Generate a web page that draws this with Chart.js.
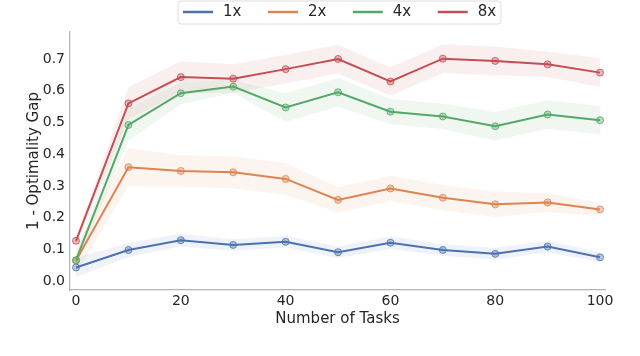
<!DOCTYPE html>
<html><head><meta charset="utf-8">
<script src="https://cdn.jsdelivr.net/npm/chart.js@4"></script>
<style>html,body{margin:0;padding:0;background:#fff}#w{width:640px;height:356px}</style>
</head><body><div id="w"><canvas id="c" width="640" height="356"></canvas></div>
<script>
const tasks = [0, 10, 20, 30, 40, 50, 60, 70, 80, 90, 100];
const seriesNames = ["1x", "2x", "4x", "8x"];
const xTickValues = [0, 20, 40, 60, 80, 100];
const yTickValues = [0.0, 0.1, 0.2, 0.3, 0.4, 0.5, 0.6, 0.7];

const mean1x  = [0.043, 0.098, 0.129, 0.114, 0.124, 0.091, 0.121, 0.098, 0.086, 0.109, 0.075];
const lower1x = [0.013, 0.076, 0.109, 0.096, 0.106, 0.073, 0.101, 0.080, 0.068, 0.091, 0.060];
const upper1x = [0.073, 0.120, 0.149, 0.132, 0.142, 0.109, 0.141, 0.116, 0.104, 0.127, 0.090];

const mean2x  = [0.065, 0.359, 0.347, 0.343, 0.322, 0.256, 0.292, 0.263, 0.242, 0.248, 0.226];
const lower2x = [0.025, 0.299, 0.297, 0.293, 0.272, 0.216, 0.252, 0.223, 0.202, 0.218, 0.206];
const upper2x = [0.105, 0.419, 0.397, 0.393, 0.372, 0.296, 0.332, 0.303, 0.282, 0.278, 0.246];

const mean4x  = [0.066, 0.492, 0.592, 0.613, 0.547, 0.595, 0.534, 0.519, 0.488, 0.525, 0.507];
const lower4x = [0.046, 0.442, 0.557, 0.593, 0.502, 0.550, 0.494, 0.479, 0.443, 0.480, 0.462];
const upper4x = [0.086, 0.542, 0.627, 0.633, 0.592, 0.640, 0.574, 0.559, 0.533, 0.570, 0.552];

const mean8x  = [0.127, 0.560, 0.643, 0.638, 0.668, 0.700, 0.629, 0.701, 0.694, 0.683, 0.657];
const lower8x = [0.117, 0.510, 0.593, 0.593, 0.623, 0.655, 0.584, 0.656, 0.649, 0.643, 0.612];
const upper8x = [0.137, 0.610, 0.693, 0.683, 0.713, 0.745, 0.674, 0.746, 0.739, 0.723, 0.702];

const colors = ["#4c72b0", "#dd8452", "#55a868", "#c44e52"];
const means = [mean1x, mean2x, mean4x, mean8x];
const lowers = [lower1x, lower2x, lower4x, lower8x];
const uppers = [upper1x, upper2x, upper4x, upper8x];

function rgba(hex, a) {
  const n = parseInt(hex.slice(1), 16);
  return `rgba(${(n >> 16) & 255},${(n >> 8) & 255},${n & 255},${a})`;
}
const pts = arr => arr.map((v, i) => ({x: tasks[i], y: v}));

const datasets = [];
seriesNames.forEach((name, i) => {
  datasets.push({
    label: name, data: pts(means[i]), borderColor: colors[i], borderWidth: 2,
    pointRadius: 3.5, pointBackgroundColor: rgba(colors[i], 0.4),
    pointBorderColor: rgba(colors[i], 0.8), pointBorderWidth: 1,
    fill: false, tension: 0, order: 3 - i
  });
});
seriesNames.forEach((name, i) => {
  datasets.push({
    label: name + " upper", data: pts(uppers[i]), borderWidth: 0, pointRadius: 0,
    borderColor: "rgba(0,0,0,0)", backgroundColor: rgba(colors[i], 0.09),
    fill: "+1", tension: 0, order: 10 + i
  });
  datasets.push({
    label: name + " lower", data: pts(lowers[i]), borderWidth: 0, pointRadius: 0,
    borderColor: "rgba(0,0,0,0)", fill: false, tension: 0, order: 10 + i
  });
});

const legendPlugin = {
  id: "boxLegend",
  afterDraw(chart) {
    const ctx = chart.ctx;
    ctx.save();
    const bx = 178, by = 1, bw = 323, bh = 23, r = 3;
    ctx.beginPath();
    ctx.moveTo(bx + r, by);
    ctx.arcTo(bx + bw, by, bx + bw, by + bh, r);
    ctx.arcTo(bx + bw, by + bh, bx, by + bh, r);
    ctx.arcTo(bx, by + bh, bx, by, r);
    ctx.arcTo(bx, by, bx + bw, by, r);
    ctx.closePath();
    ctx.fillStyle = "rgba(255,255,255,0.9)";
    ctx.fill();
    ctx.strokeStyle = "#dcdcdc";
    ctx.lineWidth = 1;
    ctx.stroke();
    ctx.font = "15px 'DejaVu Sans'";
    ctx.textBaseline = "middle";
    ctx.fillStyle = "#262626";
    seriesNames.forEach((name, i) => {
      const x0 = 183 + i * 84.9;
      ctx.beginPath();
      ctx.moveTo(x0, 12);
      ctx.lineTo(x0 + 30, 12);
      ctx.strokeStyle = colors[i];
      ctx.lineWidth = 2.5;
      ctx.stroke();
      ctx.fillText(name, x0 + 40, 12.5);
    });
    ctx.restore();
  }
};

new Chart(document.getElementById("c"), {
  type: "line",
  data: {datasets},
  plugins: [legendPlugin],
  options: {
    responsive: false, animation: false,
    layout: {padding: {top: 32, right: 35, left: 0, bottom: 0}},
    plugins: {legend: {display: false}, tooltip: {enabled: false}},
    scales: {
      x: {
        type: "linear", min: -1.15, max: 100.95,
        afterFit: s => { s.height = 66; },
        afterBuildTicks: s => { s.ticks = xTickValues.map(v => ({value: v})); },
        grid: {display: false, drawTicks: false},
        border: {display: true, color: "#b3b3b3", width: 1.25},
        ticks: {color: "#262626", font: {family: "DejaVu Sans", size: 14}, padding: 3, maxRotation: 0},
        title: {display: true, text: "Number of Tasks", color: "#262626",
          font: {family: "DejaVu Sans", size: 15}, padding: {top: 0, bottom: 28}}
      },
      y: {
        type: "linear", min: -0.028, max: 0.785,
        afterFit: s => { s.width = 70; },
        afterBuildTicks: s => { s.ticks = yTickValues.map(v => ({value: v})); },
        grid: {display: false, drawTicks: false},
        border: {display: true, color: "#b3b3b3", width: 1.25},
        ticks: {color: "#262626", font: {family: "DejaVu Sans", size: 14}, padding: 5,
          callback: v => v.toFixed(1)},
        title: {display: true, text: "1 - Optimality Gap", color: "#262626",
          font: {family: "DejaVu Sans", size: 15}, padding: {top: 25, bottom: 0}}
      }
    }
  }
});
</script>
</body></html>
